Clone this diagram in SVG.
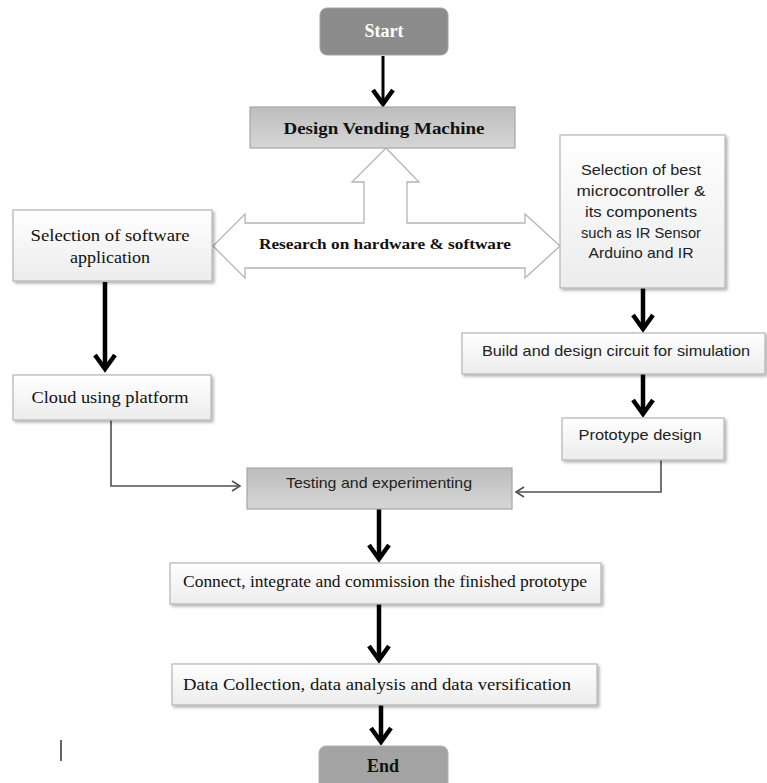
<svg xmlns="http://www.w3.org/2000/svg" width="767" height="783" viewBox="0 0 767 783">
<style>
.serif{font-family:"Liberation Serif","Times New Roman",serif;fill:#111;}
.sans{font-family:"Liberation Sans",Arial,sans-serif;fill:#222;}
.b{font-weight:bold;}
.lt{fill:url(#gLight);stroke:#b4b4b4;stroke-width:1.2;filter:url(#sh);}
.gr{fill:url(#gGray);stroke:#a6a6a6;stroke-width:1.2;}
.thick{stroke:#000;stroke-width:4.5;fill:none;marker-end:url(#chev);}
.thin{stroke:#505050;stroke-width:1.6;fill:none;marker-end:url(#open);}
</style>
<defs>
<linearGradient id="gLight" x1="0" y1="0" x2="0" y2="1">
<stop offset="0" stop-color="#ffffff"/><stop offset="1" stop-color="#ececec"/>
</linearGradient>
<linearGradient id="gGray" x1="0" y1="0" x2="0" y2="1">
<stop offset="0" stop-color="#bdbdbd"/><stop offset="1" stop-color="#d6d6d6"/>
</linearGradient>
<filter id="sh" x="-5%" y="-10%" width="115%" height="130%">
<feDropShadow dx="2" dy="2" stdDeviation="1.5" flood-color="#000" flood-opacity="0.3"/>
</filter>
<marker id="chev" markerUnits="userSpaceOnUse" viewBox="-2 -14 24 28" refX="16" refY="0" markerWidth="24" markerHeight="28" orient="auto">
<polyline points="2,-10 16,0 2,10" fill="none" stroke="#000" stroke-width="4.5"/>
</marker>
<marker id="open" markerUnits="userSpaceOnUse" viewBox="-1 -7 12 14" refX="9" refY="0" markerWidth="12" markerHeight="14" orient="auto">
<polyline points="1,-5 9,0 1,5" fill="none" stroke="#505050" stroke-width="1.6"/>
</marker>
</defs>

<g id="connectors">
<line x1="383" y1="56" x2="383" y2="104" class="thick" style="stroke-width:3"/>
<line x1="105" y1="282" x2="105" y2="369" class="thick"/>
<line x1="643" y1="288" x2="643" y2="329" class="thick"/>
<line x1="643" y1="374" x2="643" y2="414" class="thick"/>
<line x1="379" y1="509" x2="379" y2="559" class="thick"/>
<line x1="379" y1="604" x2="379" y2="660" class="thick"/>
<line x1="381" y1="705" x2="381" y2="742" class="thick"/>
<path d="M111,420 V486 H240" class="thin"/>
<path d="M661,460 V492 H516" class="thin"/>
</g>

<g id="start">
<rect x="320" y="8" width="128" height="47" rx="7" fill="#8c8c8c" stroke="#a3a3a3"/>
<text x="384" y="37" text-anchor="middle" class="serif b" style="fill:#fff" font-size="18">Start</text>
</g>

<g id="design">
<rect x="250" y="107" width="265" height="41" class="gr"/>
<text x="384" y="134" text-anchor="middle" class="serif b" font-size="17" textLength="201" lengthAdjust="spacingAndGlyphs">Design Vending Machine</text>
</g>

<g id="research">
<polygon points="213,246 245,214 245,223 364,223 364,182 352,182 386,148 419,182 407,182 407,223 525,223 525,214 560,246 525,278 525,268 245,268 245,278" fill="#fff" stroke="#b4b4b4" stroke-width="1.3"/>
<text x="385" y="249" text-anchor="middle" class="serif b" font-size="15" textLength="252" lengthAdjust="spacingAndGlyphs">Research on hardware &amp; software</text>
</g>

<g id="software">
<rect x="13" y="210" width="199" height="71" class="lt"/>
<text x="110" y="241" text-anchor="middle" class="serif" font-size="17" textLength="159" lengthAdjust="spacingAndGlyphs">Selection  of software</text>
<text x="110" y="263" text-anchor="middle" class="serif" font-size="17" textLength="80" lengthAdjust="spacingAndGlyphs">application</text>
</g>

<g id="micro">
<rect x="560" y="135" width="165" height="153" class="lt"/>
<text x="641" y="175" text-anchor="middle" class="sans" font-size="14.5" textLength="120" lengthAdjust="spacingAndGlyphs">Selection of best</text>
<text x="641" y="196" text-anchor="middle" class="sans" font-size="14.5" textLength="129" lengthAdjust="spacingAndGlyphs">microcontroller &amp;</text>
<text x="641" y="217" text-anchor="middle" class="sans" font-size="14.5" textLength="112" lengthAdjust="spacingAndGlyphs">its components</text>
<text x="641" y="238" text-anchor="middle" class="sans" font-size="14.5" textLength="120" lengthAdjust="spacingAndGlyphs">such as IR Sensor</text>
<text x="641" y="258" text-anchor="middle" class="sans" font-size="14.5" textLength="105" lengthAdjust="spacingAndGlyphs">Arduino and IR</text>
</g>

<g id="cloud">
<rect x="13" y="375" width="198" height="45" class="lt"/>
<text x="110" y="403" text-anchor="middle" class="serif" font-size="17" textLength="157" lengthAdjust="spacingAndGlyphs">Cloud using platform</text>
</g>

<g id="build">
<rect x="462" y="333" width="303" height="41" class="lt"/>
<text x="616" y="356" text-anchor="middle" class="sans" font-size="14.5" textLength="268" lengthAdjust="spacingAndGlyphs">Build and design circuit for simulation</text>
</g>

<g id="prototype">
<rect x="562" y="418" width="162" height="42" class="lt"/>
<text x="640" y="440" text-anchor="middle" class="sans" font-size="14.5" textLength="123" lengthAdjust="spacingAndGlyphs">Prototype design</text>
</g>

<g id="testing">
<rect x="247" y="468" width="265" height="41" class="gr"/>
<text x="379" y="488" text-anchor="middle" class="sans" font-size="14.5" textLength="186" lengthAdjust="spacingAndGlyphs">Testing and experimenting</text>
</g>

<g id="connect">
<rect x="170" y="563" width="431" height="41" class="lt"/>
<text x="385" y="587" text-anchor="middle" class="serif" font-size="17" textLength="404" lengthAdjust="spacingAndGlyphs">Connect, integrate and commission the finished prototype</text>
</g>

<g id="data">
<rect x="172" y="664" width="425" height="41" class="lt"/>
<text x="377" y="690" text-anchor="middle" class="serif" font-size="17" textLength="388" lengthAdjust="spacingAndGlyphs">Data Collection, data analysis and data versification</text>
</g>

<g id="end">
<rect x="319" y="746" width="129" height="46" rx="7" fill="#a3a3a3" stroke="#b0b0b0"/>
<text x="383" y="772" text-anchor="middle" class="serif b" font-size="18">End</text>
</g>

<line x1="61" y1="740" x2="61" y2="761" stroke="#333" stroke-width="1.5"/>
</svg>
